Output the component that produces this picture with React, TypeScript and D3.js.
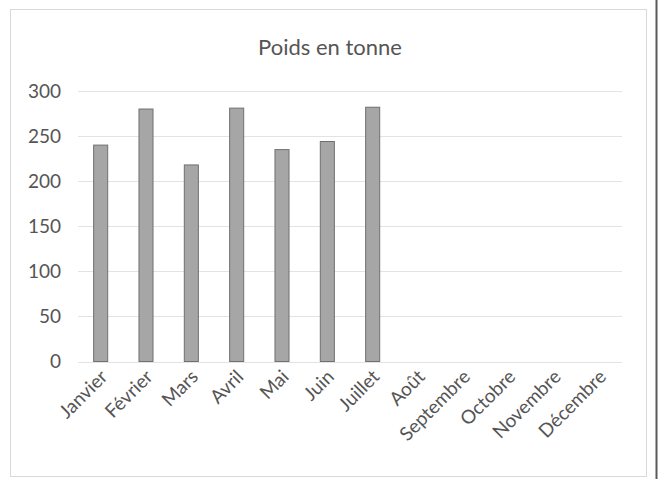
import * as d3 from "d3";

const months = [
  "Janvier", "Février", "Mars", "Avril", "Mai", "Juin",
  "Juillet", "Août", "Septembre", "Octobre", "Novembre", "Décembre",
];
const poids: (number | null)[] = [240, 280, 218, 281, 235, 244, 282, null, null, null, null, null];
const yTicks = [0, 50, 100, 150, 200, 250, 300];

const W = 659;
const H = 479;
const font = "Lato, 'Open Sans', sans-serif";
const ink = "#555";

export default function App() {
  const x = d3.scaleBand<string>().domain(months).range([78, 622]);
  const y = d3.scaleLinear().domain([0, 300]).range([361.5, 91]);
  const barW = x.bandwidth() * 0.31;

  return (
    <svg
      width={W}
      height={H}
      style={{ position: "absolute", left: 0, top: 0, background: "#fff" }}
    >
      <rect x={10.5} y={9.5} width={636} height={467} fill="#fff" stroke="#d9d9d9" />
      <line x1={656.5} x2={656.5} y1={0} y2={H} stroke="#5a5a5a" strokeWidth={2} />

      <text x={330} y={55} textAnchor="middle" fontFamily={font} fontSize={22} fill={ink}>
        Poids en tonne
      </text>

      {yTicks.map((t) => (
        <g key={t}>
          <line x1={78} x2={622} y1={Math.round(y(t)) + 0.5} y2={Math.round(y(t)) + 0.5} stroke="#e3e3e3" />
          <text x={61} y={y(t)} dy="0.35em" textAnchor="end" fontFamily={font} fontSize={19} fill={ink}>
            {t}
          </text>
        </g>
      ))}

      {months.map((m, i) => {
        const v = poids[i];
        if (v == null) return null;
        const cx = (x(m) ?? 0) + x.bandwidth() / 2;
        return (
          <rect
            key={m}
            x={cx - barW / 2}
            y={y(v)}
            width={barW}
            height={y(0) - y(v)}
            fill="#a6a6a6"
            stroke="#707070"
            strokeWidth={1}
          />
        );
      })}

      {months.map((m) => {
        const cx = (x(m) ?? 0) + x.bandwidth() / 2;
        return (
          <text
            key={m}
            transform={`translate(${cx + 8},${378}) rotate(-45)`}
            textAnchor="end"
            fontFamily={font}
            fontSize={19}
            fill={ink}
          >
            {m}
          </text>
        );
      })}
    </svg>
  );
}
